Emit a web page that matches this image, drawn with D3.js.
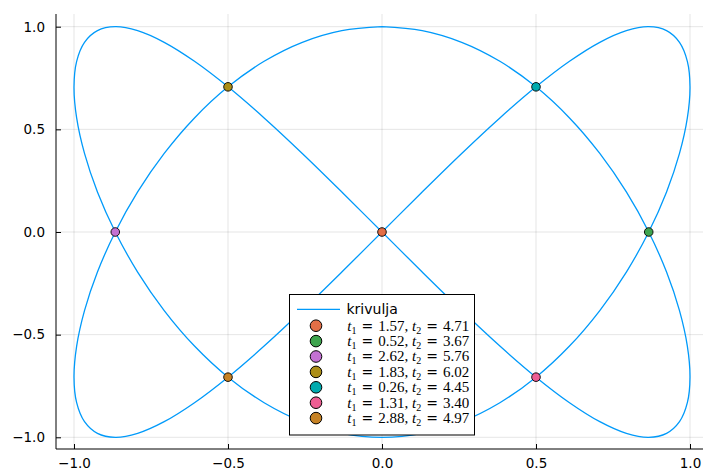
<!DOCTYPE html>
<html><head><meta charset="utf-8">
<script src="https://cdn.jsdelivr.net/npm/d3@7"></script>
<style>body{margin:0;background:#fff}svg{display:block}</style>
</head><body>
<svg id="c" width="703" height="472"></svg>
<script>
// Curve samples (x = sin 2t, y = cos 3t sampled at t = k·3.75°, precomputed values)
const curveX = [0,.1305,.2588,.3827,.5,.6088,.7071,.7934,.866,.9239,.9659,.9914,1,.9914,.9659,.9239,.866,.7934,.7071,.6088,.5,.3827,.2588,.1305,0,-.1305,-.2588,-.3827,-.5,-.6088,-.7071,-.7934,-.866,-.9239,-.9659,-.9914,-1,-.9914,-.9659,-.9239,-.866,-.7934,-.7071,-.6088,-.5,-.3827,-.2588,-.1305,
  0,.1305,.2588,.3827,.5,.6088,.7071,.7934,.866,.9239,.9659,.9914,1,.9914,.9659,.9239,.866,.7934,.7071,.6088,.5,.3827,.2588,.1305,0,-.1305,-.2588,-.3827,-.5,-.6088,-.7071,-.7934,-.866,-.9239,-.9659,-.9914,-1,-.9914,-.9659,-.9239,-.866,-.7934,-.7071,-.6088,-.5,-.3827,-.2588,-.1305,0];
const curveY = [1,.9808,.9239,.8315,.7071,.5556,.3827,.1951,0,-.1951,-.3827,-.5556,-.7071,-.8315,-.9239,-.9808,-1,-.9808,-.9239,-.8315,-.7071,-.5556,-.3827,-.1951,0,.1951,.3827,.5556,.7071,.8315,.9239,.9808,
  1,.9808,.9239,.8315,.7071,.5556,.3827,.1951,0,-.1951,-.3827,-.5556,-.7071,-.8315,-.9239,-.9808,-1,-.9808,-.9239,-.8315,-.7071,-.5556,-.3827,-.1951,0,.1951,.3827,.5556,.7071,.8315,.9239,.9808,
  1,.9808,.9239,.8315,.7071,.5556,.3827,.1951,0,-.1951,-.3827,-.5556,-.7071,-.8315,-.9239,-.9808,-1,-.9808,-.9239,-.8315,-.7071,-.5556,-.3827,-.1951,0,.1951,.3827,.5556,.7071,.8315,.9239,.9808,1];
// Self-intersection points
const pointX = [0, 0.866, -0.866, -0.5, 0.5, 0.5, -0.5];
const pointY = [0, 0, 0, 0.7071, 0.7071, -0.7071, -0.7071];
const t1 = ["1.57","0.52","2.62","1.83","0.26","1.31","2.88"];
const t2 = ["4.71","3.67","5.76","6.02","4.45","3.40","4.97"];
const pointColors = ["#E36F47","#3EA44E","#C371D2","#AC8E18","#00AAAE","#ED5E93","#C68225"];
const lineColor = "#009AFA";
const lineLabel = "krivulja";
const xTicks = [-1,-0.5,0,0.5,1];
const yTicks = [-1,-0.5,0,0.5,1];

const svg = d3.select("#c");
const pL = 56, pR = 703, pT = 14, pB = 449;
const x = d3.scaleLinear().domain([-1,1]).range([74,690]);
const y = d3.scaleLinear().domain([-1,1]).range([437.3,26.7]);
const fmt = v => (v<0?"\u2212":"") + Math.abs(v).toFixed(1);

// grid
svg.append("g").selectAll("line").data(xTicks).join("line")
  .attr("x1",d=>x(d)).attr("x2",d=>x(d)).attr("y1",pT).attr("y2",pB)
  .attr("stroke","#000").attr("stroke-opacity",0.1).attr("stroke-width",1);
svg.append("g").selectAll("line").data(yTicks).join("line")
  .attr("y1",d=>y(d)).attr("y2",d=>y(d)).attr("x1",pL).attr("x2",pR)
  .attr("stroke","#000").attr("stroke-opacity",0.1).attr("stroke-width",1);

// axes
const xAxis = d3.axisBottom(x).tickValues(xTicks).tickFormat(fmt).tickSizeInner(-5).tickSizeOuter(0).tickPadding(9);
const yAxis = d3.axisLeft(y).tickValues(yTicks).tickFormat(fmt).tickSizeInner(-5).tickSizeOuter(0).tickPadding(11);
const gx = svg.append("g").attr("transform",`translate(0,${pB})`).call(xAxis);
gx.select(".domain").remove();
const gy = svg.append("g").attr("transform",`translate(${pL},0)`).call(yAxis);
gy.select(".domain").remove();
[gx,gy].forEach(g=>{
  g.selectAll("text").attr("font-family","'DejaVu Sans', sans-serif").attr("font-size",13.5).attr("fill","#000");
  g.selectAll("line").attr("stroke","#000");
});
svg.append("line").attr("x1",pL).attr("x2",pR).attr("y1",pB).attr("y2",pB).attr("stroke","#000").attr("stroke-width",1);
svg.append("line").attr("x1",pL).attr("x2",pL).attr("y1",pT).attr("y2",pB).attr("stroke","#000").attr("stroke-width",1);

// curve
const pts = curveX.map((v,i)=>[v,curveY[i]]);
svg.append("path").datum(pts)
  .attr("d", d3.line().x(d=>x(d[0])).y(d=>y(d[1])).curve(d3.curveCatmullRom.alpha(0.5)))
  .attr("fill","none").attr("stroke",lineColor).attr("stroke-width",1.3);

// points
svg.append("g").selectAll("circle").data(pointX).join("circle")
  .attr("cx",(d)=>x(d)).attr("cy",(d,i)=>y(pointY[i])).attr("r",4.3)
  .attr("fill",(d,i)=>pointColors[i]).attr("stroke","#000").attr("stroke-width",0.9);

// legend
const lg = svg.append("g");
lg.append("rect").attr("x",289.5).attr("y",294.5).attr("width",185).attr("height",140.5)
  .attr("fill","#fff").attr("stroke","#000").attr("stroke-width",1);
lg.append("line").attr("x1",297).attr("x2",340).attr("y1",309.3).attr("y2",309.3)
  .attr("stroke",lineColor).attr("stroke-width",1.3);
lg.append("text").attr("x",346.5).attr("y",314.3).text(lineLabel)
  .attr("font-family","'DejaVu Sans', sans-serif").attr("font-size",14).attr("fill","#000");
const rowY = i => 325.7 + i*15.4;
lg.selectAll("circle").data(t1).join("circle")
  .attr("cx",316).attr("cy",(d,i)=>rowY(i)).attr("r",5.8)
  .attr("fill",(d,i)=>pointColors[i]).attr("stroke","#000").attr("stroke-width",1);
t1.forEach((v,i)=>{
  const t = lg.append("text").attr("x",347.3).attr("y",rowY(i)+4.8)
    .attr("font-family","'Liberation Serif', 'DejaVu Serif', serif").attr("font-size",15).attr("fill","#000");
  const part = (s, o={}) => {
    const sp = t.append("tspan").text(s);
    if (o.it) sp.attr("font-style","italic");
    if (o.fs) sp.attr("font-size",o.fs);
    if (o.dy) sp.attr("dy",o.dy);
    if (o.ff) sp.attr("font-family",o.ff);
    return sp;
  };
  part("t",{it:1});
  part("1",{fs:10,dy:3});
  part("\u2004",{dy:-3});
  part("=",{ff:"'DejaVu Serif', serif",fs:14});
  part("\u2004" + v + ", ");
  part("t",{it:1});
  part("2",{fs:10,dy:3});
  part("\u2004",{dy:-3});
  part("=",{ff:"'DejaVu Serif', serif",fs:14});
  part("\u2004" + t2[i]);
});
</script>
</body></html>
